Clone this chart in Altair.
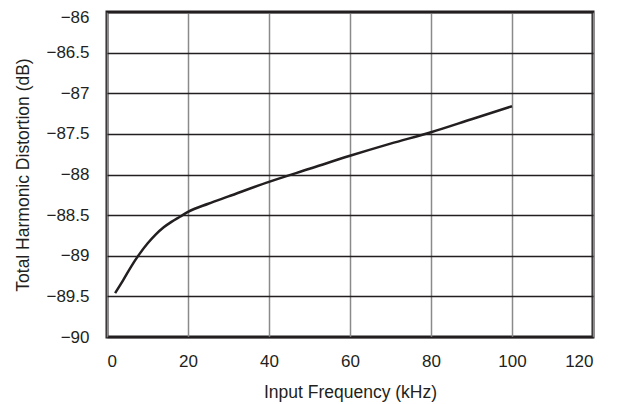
import altair as alt
import pandas as pd

freq = [2, 4, 6, 8, 10, 12, 14, 16, 18, 20, 25, 30, 40, 50, 60, 70, 80, 90, 100]
thd = [-89.46, -89.30, -89.13, -88.98, -88.85, -88.74, -88.65, -88.58, -88.52, -88.46,
       -88.36, -88.27, -88.09, -87.93, -87.77, -87.62, -87.48, -87.32, -87.16]
x_ticks = [0, 20, 40, 60, 80, 100, 120]
y_ticks = [-90, -89.5, -89, -88.5, -88, -87.5, -87, -86.5, -86]

df = pd.DataFrame({"f": freq, "thd": thd})

FONT = "Liberation Sans"

line = alt.Chart(df).mark_line(color="#231f20", strokeWidth=2.5, interpolate="monotone").encode(
    x=alt.X("f:Q", scale=alt.Scale(domain=[0, 120], nice=False),
            axis=alt.Axis(values=x_ticks, title="Input Frequency (kHz)",
                          grid=True, gridColor="#8a8a8a", gridWidth=1.5, ticks=False, domain=False,
                          labelPadding=16, titlePadding=14)),
    y=alt.Y("thd:Q", scale=alt.Scale(domain=[-90, -86], nice=False, zero=False),
            axis=alt.Axis(values=y_ticks, format="~g",
                          title="Total Harmonic Distortion (dB)",
                          grid=True, gridColor="#231f20", gridWidth=1.5, ticks=False, domain=False,
                          labelOffset={"condition": {"test": "datum.value == -86", "value": 5}, "value": 0},
                          labelPadding=18, titlePadding=13)),
)

chart = line.properties(
    width=486, height=325,
    autosize=alt.AutoSizeParams(type="none"),
    padding={"left": 99, "top": 4, "right": 17, "bottom": 67},
).configure_view(
    stroke="#231f20", strokeWidth=3
).configure_axis(
    labelFont=FONT, titleFont=FONT, labelFontSize=17, titleFontSize=17.5,
    labelColor="#231f20", titleColor="#231f20", titleFontWeight="normal",
)

chart.save("out.html", embed_options={"renderer": "svg", "actions": False})
